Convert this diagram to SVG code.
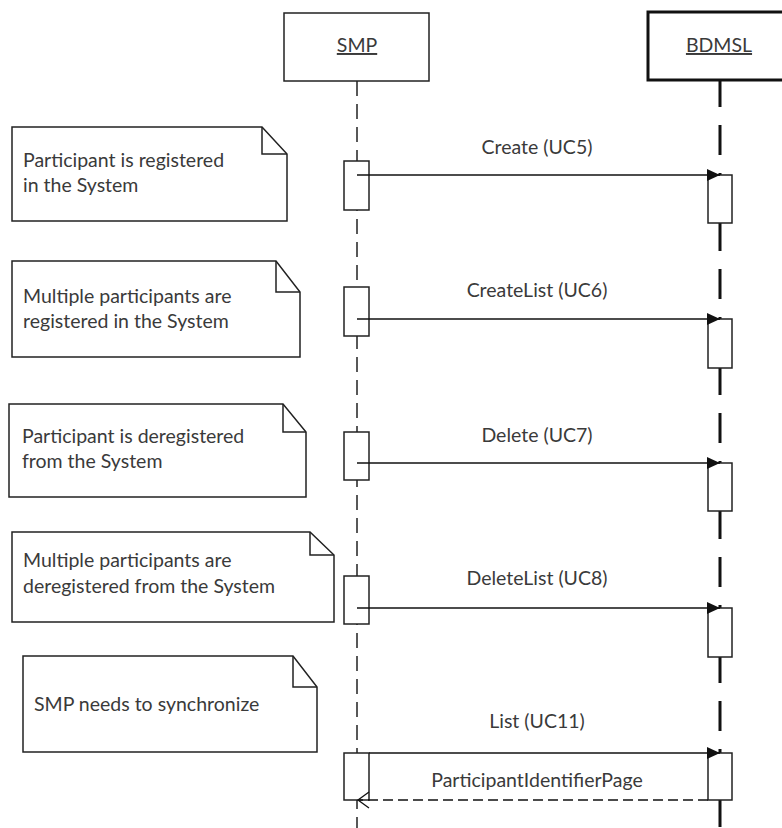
<svg xmlns="http://www.w3.org/2000/svg" width="782" height="828" viewBox="0 0 782 828">
<style>
  .note{fill:#fff;stroke:#222;stroke-width:1.5}
  .fold{fill:none;stroke:#222;stroke-width:1.5}
  .t{font-family:Lato,"Liberation Sans",sans-serif;font-size:19.5px;fill:#3a3a3a}
  .lbl{font-family:Lato,"Liberation Sans",sans-serif;font-size:19.5px;fill:#3a3a3a;text-anchor:middle}
  .act{fill:#fff;stroke:#222;stroke-width:1.5}
  .msg{stroke:#111;stroke-width:1.5;fill:none}
  .ret{stroke:#111;stroke-width:1.5;fill:none;stroke-dasharray:10 5}
</style>
<defs>
  <marker id="fill" markerWidth="14" markerHeight="14" refX="13" refY="7" orient="auto" markerUnits="userSpaceOnUse">
    <path d="M0,1 L13,7 L0,13 Z" fill="#111"/>
  </marker>
</defs>

<g id="lifelines">
  <path d="M357,81 V828" stroke="#222" stroke-width="1.5" stroke-dasharray="15 8"/>
  <path d="M720,80 V828" stroke="#111" stroke-width="3" stroke-dasharray="30 18" stroke-dashoffset="3"/>
</g>

<g id="smp">
  <rect x="284" y="13" width="145" height="68" fill="#fff" stroke="#222" stroke-width="1.5"/>
  <text class="lbl" x="357" y="52" text-decoration="underline">SMP</text>
</g>
<g id="bdmsl">
  <rect x="648" y="12" width="144" height="68" fill="#fff" stroke="#111" stroke-width="3"/>
  <text class="lbl" x="719" y="52" text-decoration="underline">BDMSL</text>
</g>

<g id="note1">
  <path class="note" d="M12,127 H262 L287,154 V221 H12 Z"/>
  <path class="fold" d="M262,127 V154 H287"/>
  <text class="t" x="23" y="167">Participant is registered</text>
  <text class="t" x="23" y="192">in the System</text>
</g>
<g id="note2">
  <path class="note" d="M12,261 H276 L300,292 V357 H12 Z"/>
  <path class="fold" d="M276,261 V292 H300"/>
  <text class="t" x="23" y="303">Multiple participants are</text>
  <text class="t" x="23" y="328">registered in the System</text>
</g>
<g id="note3">
  <path class="note" d="M9,404 H283 L306,432 V497 H9 Z"/>
  <path class="fold" d="M283,404 V432 H306"/>
  <text class="t" x="22" y="443">Participant is deregistered</text>
  <text class="t" x="22" y="468">from the System</text>
</g>
<g id="note4">
  <path class="note" d="M12,532 H310 L334,555 V622 H12 Z"/>
  <path class="fold" d="M310,532 V555 H334"/>
  <text class="t" x="23" y="567">Multiple participants are</text>
  <text class="t" x="23" y="593">deregistered from the System</text>
</g>
<g id="note5">
  <path class="note" d="M23,656 H293 L317,687 V752 H23 Z"/>
  <path class="fold" d="M293,656 V687 H317"/>
  <text class="t" x="34" y="711">SMP needs to synchronize</text>
</g>

<g id="activations">
  <rect class="act" x="344" y="161" width="25" height="49"/>
  <rect class="act" x="344" y="287" width="25" height="49"/>
  <rect class="act" x="344" y="432" width="25" height="48"/>
  <rect class="act" x="344" y="576" width="25" height="48"/>
  <rect class="act" x="344" y="753" width="25" height="47"/>
  <rect class="act" x="708" y="175" width="24" height="48"/>
  <rect class="act" x="708" y="319" width="24" height="49"/>
  <rect class="act" x="708" y="463" width="24" height="48"/>
  <rect class="act" x="708" y="608" width="24" height="49"/>
  <rect class="act" x="708" y="753" width="24" height="47"/>
</g>

<g id="connectors">
  <path class="msg" d="M357,175 H720" marker-end="url(#fill)"/>
  <path class="msg" d="M357,319 H720" marker-end="url(#fill)"/>
  <path class="msg" d="M357,463 H720" marker-end="url(#fill)"/>
  <path class="msg" d="M357,608 H720" marker-end="url(#fill)"/>
  <path class="msg" d="M369,753 H720" marker-end="url(#fill)"/>
  <path class="ret" d="M708,800 H359"/>
  <path d="M369,792 L358,800 L369,808" fill="none" stroke="#111" stroke-width="1.3"/>
  <text class="lbl" x="537" y="154">Create (UC5)</text>
  <text class="lbl" x="537" y="297">CreateList (UC6)</text>
  <text class="lbl" x="537" y="442">Delete (UC7)</text>
  <text class="lbl" x="537" y="585">DeleteList (UC8)</text>
  <text class="lbl" x="537" y="728">List (UC11)</text>
  <text class="lbl" x="537" y="787">ParticipantIdentifierPage</text>
</g>
</svg>
